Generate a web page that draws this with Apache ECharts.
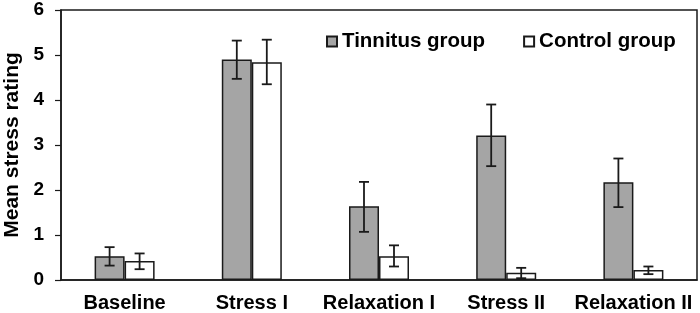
<!DOCTYPE html>
<html>
<head>
<meta charset="utf-8">
<script src="https://cdn.jsdelivr.net/npm/echarts@6/dist/echarts.min.js"></script>
<style>html,body{margin:0;padding:0;background:#fff;}#c{width:700px;height:313px;}</style>
</head>
<body>
<div id="c"></div>
<script>
// ---- data ----
const categories = ['Baseline', 'Stress I', 'Relaxation I', 'Stress II', 'Relaxation II'];
const tinnitusMean = [0.53, 4.90, 1.64, 3.21, 2.17];
const tinnitusLow  = [0.32, 4.47, 1.07, 2.53, 1.62];
const tinnitusHigh = [0.73, 5.32, 2.18, 3.90, 2.70];
const controlMean  = [0.42, 4.84, 0.53, 0.16, 0.22];
const controlLow   = [0.24, 4.35, 0.30, 0.04, 0.13];
const controlHigh  = [0.59, 5.34, 0.77, 0.27, 0.30];
const yTicks = [0, 1, 2, 3, 4, 5, 6];

// ---- style ----
const FONT = 'Liberation Sans, Arial, sans-serif';
const BAR_W = 30;
const CAP_W = 10;
const EDGE = '#1a1a1a';

function errorSeries(name, low, high, offset) {
  return {
    type: 'custom',
    name: name + ' err',
    z: 10,
    data: categories.map((c, i) => [i, low[i], high[i]]),
    renderItem: function (params, api) {
      const i = api.value(0);
      const lo = api.coord([i, api.value(1)]);
      const hi = api.coord([i, api.value(2)]);
      const x = lo[0] + offset;
      const style = { stroke: EDGE, lineWidth: 1.8 };
      return {
        type: 'group',
        children: [
          { type: 'line', shape: { x1: x, y1: lo[1], x2: x, y2: hi[1] }, style: style },
          { type: 'line', shape: { x1: x - CAP_W / 2, y1: hi[1], x2: x + CAP_W / 2, y2: hi[1] }, style: style },
          { type: 'line', shape: { x1: x - CAP_W / 2, y1: lo[1], x2: x + CAP_W / 2, y2: lo[1] }, style: style }
        ]
      };
    },
    silent: true
  };
}

const chart = echarts.init(document.getElementById('c'), null, { renderer: 'canvas' });
chart.setOption({
  animation: false,
  backgroundColor: '#fff',
  textStyle: { fontFamily: FONT },
  grid: {
    left: 61, right: 3, top: 10, bottom: 33,
    containLabel: false,
    outerBoundsMode: 'none',
    show: true, borderColor: EDGE, borderWidth: 1.5, backgroundColor: 'transparent'
  },
  legend: {
    left: 321, top: 26,
    itemWidth: 10, itemHeight: 10, itemGap: 38,
    icon: 'rect',
    data: ['Tinnitus group', 'Control group'],
    textStyle: { fontFamily: FONT, fontSize: 20.5, fontWeight: 'bold', color: '#000' }
  },
  xAxis: {
    type: 'category',
    data: categories,
    axisLine: { lineStyle: { color: EDGE, width: 1.5 } },
    axisTick: { show: false },
    axisLabel: { interval: 0, fontFamily: FONT, fontSize: 20, fontWeight: 'bold', color: '#000', margin: 13 }
  },
  yAxis: {
    type: 'value',
    min: 0, max: 6, interval: 1,
    name: 'Mean stress rating',
    nameLocation: 'middle',
    nameGap: 38,
    nameTextStyle: { fontFamily: FONT, fontSize: 21, fontWeight: 'bold', color: '#000' },
    axisLine: { show: true, lineStyle: { color: EDGE, width: 1.5 } },
    axisTick: { show: true, length: 6, lineStyle: { color: EDGE, width: 1.2 } },
    axisLabel: { fontFamily: FONT, fontSize: 19, fontWeight: 'bold', color: '#000', margin: 17,
      formatter: v => yTicks.includes(v) ? String(v) : '' },
    splitLine: { show: false }
  },
  series: [
    {
      name: 'Tinnitus group', type: 'bar', data: tinnitusMean,
      barWidth: BAR_W, barGap: '0%',
      itemStyle: { color: '#a5a5a5', borderColor: EDGE, borderWidth: 1.5 }
    },
    {
      name: 'Control group', type: 'bar', data: controlMean,
      barWidth: BAR_W, barGap: '0%',
      itemStyle: { color: '#ffffff', borderColor: EDGE, borderWidth: 1.5 }
    },
    errorSeries('Tinnitus group', tinnitusLow, tinnitusHigh, -BAR_W / 2),
    errorSeries('Control group', controlLow, controlHigh, BAR_W / 2)
  ]
});
</script>
</body>
</html>
